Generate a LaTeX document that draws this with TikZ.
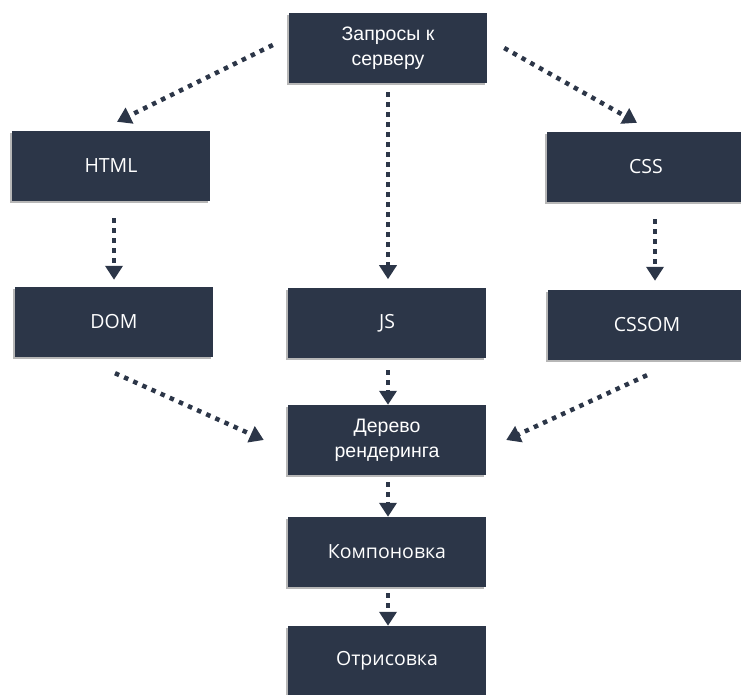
\documentclass[tikz,border=0pt]{standalone}
\usepackage{fontspec}
\setmainfont{Open Sans}
\newfontfamily\arialfont{Liberation Sans}
\usetikzlibrary{calc}
\usetikzlibrary{arrows.meta}
\usetikzlibrary{shadows}
\definecolor{boxblue}{RGB}{44,54,72}

\tikzset{
    blok/.style={fill=boxblue,text=white,minimum width=198pt,minimum height=70pt,
        align=center,font=\fontsize{19.5}{25}\selectfont,
        drop shadow={shadow xshift=-2pt,shadow yshift=-2pt,opacity=0.4,fill=black!70}},
    strelka/.style={->,draw=boxblue,line width=4.5pt,dash pattern=on 4.5pt off 5.5pt}
}

\begin{document}
\begin{tikzpicture}[>={Triangle[width=17pt,length=14pt]},x=1pt,y=-1pt]
                        \useasboundingbox (0,0) rectangle (741,695);
                        \node[blok] (zapros) at (388,48) {\arialfont Запросы к\\\arialfont серверу};
                        \node[blok] (html) at (111,166) {HTML};
                        \node[blok] (css) at (646,167) {CSS};
                        \node[blok] (dom) at (114,322) {DOM};
                        \node[blok] (js) at (387,323) {JS};
                        \node[blok] (cssom) at (647,325) {CSSOM};
                        \node[blok] (derevo) at (387,440) {\arialfont Дерево\\\arialfont рендеринга};
                        \node[blok] (komp) at (387,552) {Компоновка};
                        \node[blok] (otris) at (387,661) {Отрисовка};
                        \draw[strelka] ($(zapros.west)+(-16,-3)$) -- ($(html.north)+(6,-9)$);
                        \draw[strelka] ($(zapros.east)+(17,0)$) -- ($(css.north)+(-9,-9)$);
                        \draw[strelka] ($(zapros.south)+(0,9)$) -- ($(zapros.south)+(0,196)$);
                        \draw[strelka] ($(html.south)+(3,17)$) -- ($(dom.north)+(0,-7)$);
                        \draw[strelka] ($(css.south)+(9,17)$) -- ($(cssom.north)+(8,-9)$);
                        \draw[strelka] ($(dom.south)+(1,16)$) -- ($(derevo.west)+(-24,0)$);
                        \draw[strelka] ($(cssom.south)+(0,15)$) -- ($(derevo.east)+(20,0)$);
                        \draw[strelka] ($(js.south)+(1,12)$) -- ($(derevo.north)+(1,0)$);
                        \draw[strelka] ($(derevo.south)+(1,7)$) -- ($(komp.north)+(1,0)$);
                        \draw[strelka] ($(komp.south)+(1,6)$) -- ($(otris.north)+(1,0)$);
\end{tikzpicture}
\end{document}
